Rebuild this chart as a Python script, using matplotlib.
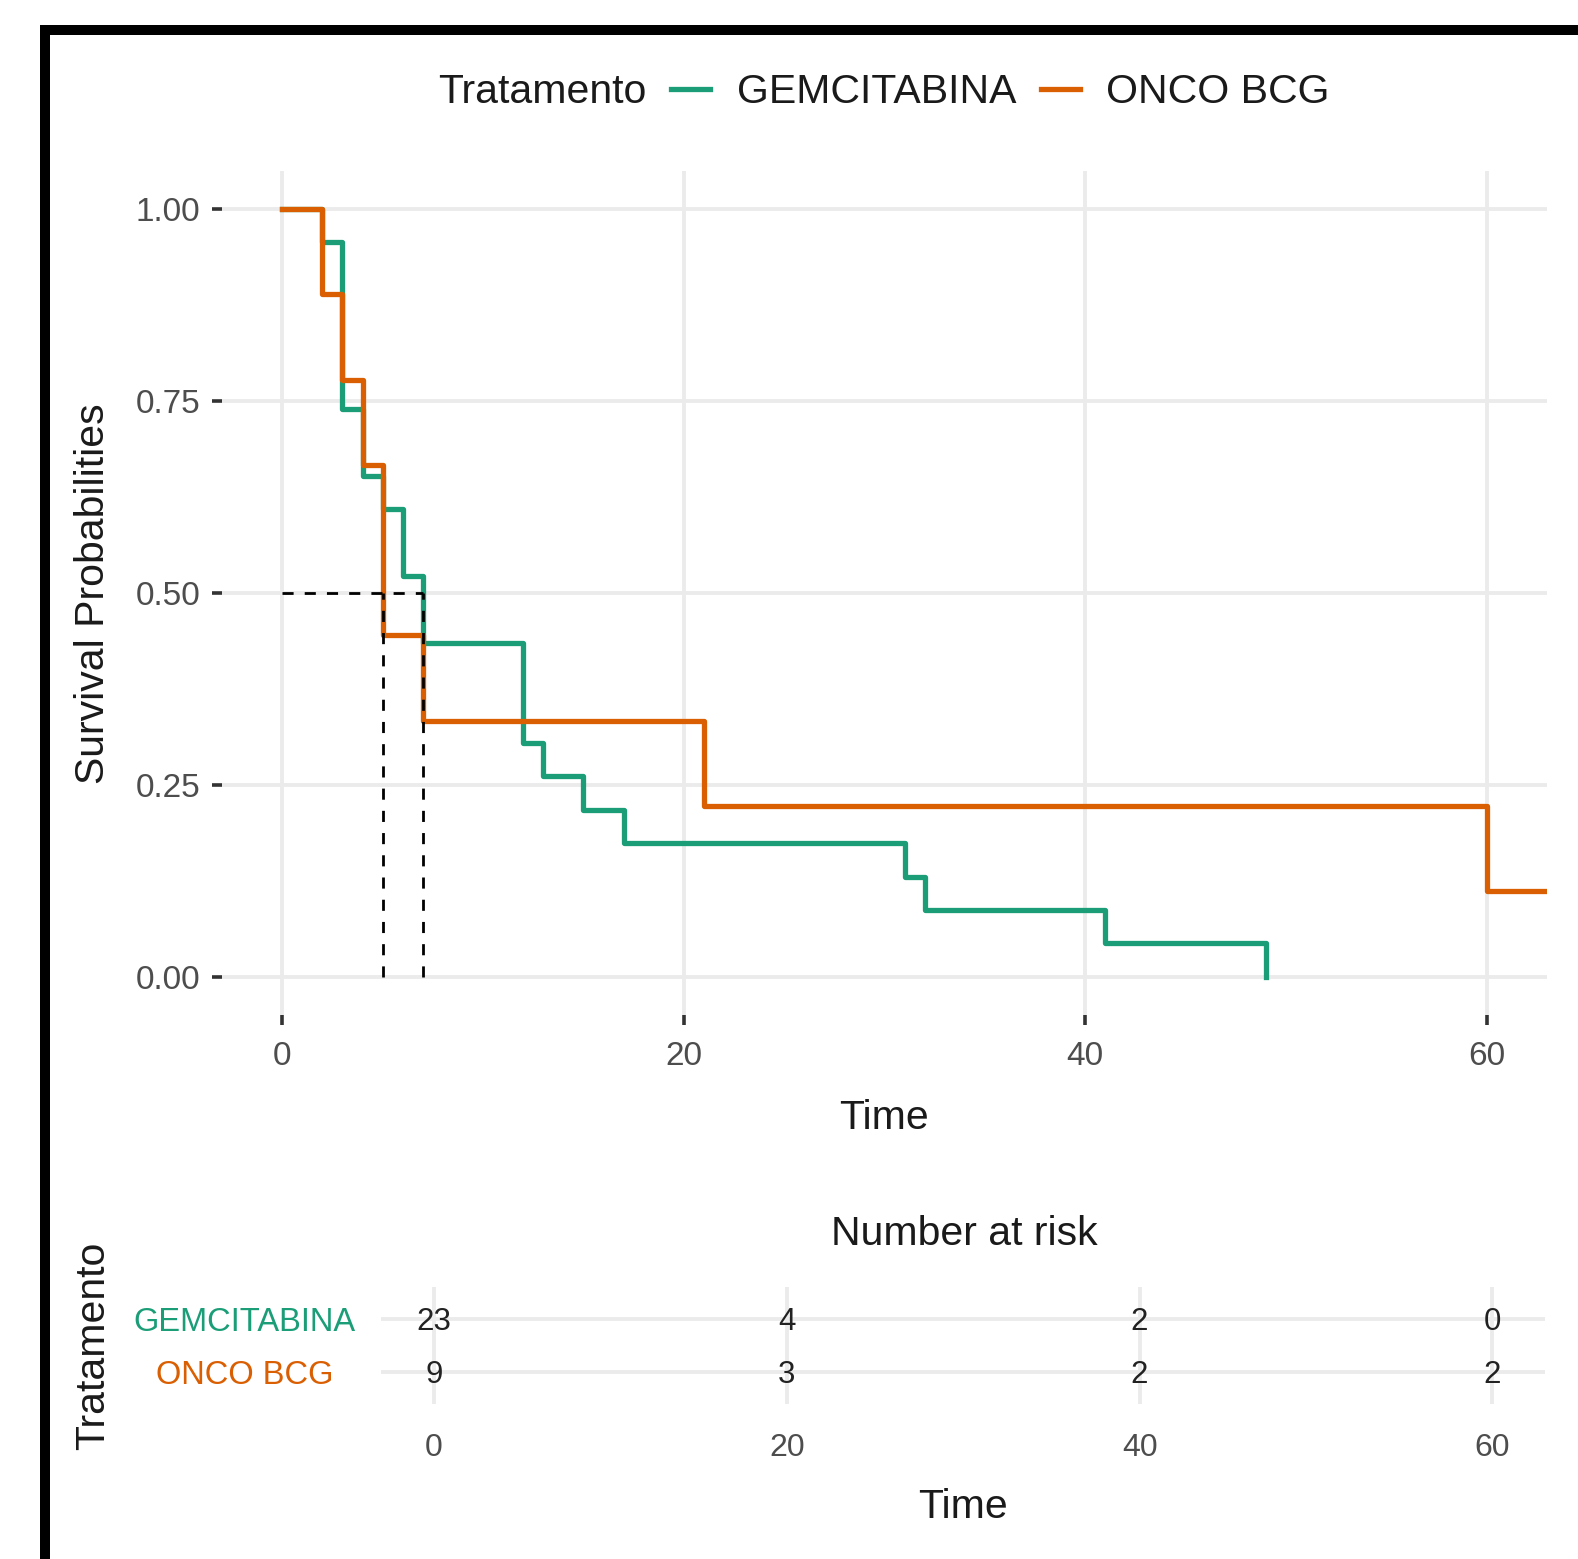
import matplotlib
matplotlib.use("Agg")
import matplotlib.pyplot as plt
from matplotlib.lines import Line2D
from matplotlib.transforms import offset_copy

plt.rcParams['font.family'] = ['Liberation Sans', 'DejaVu Sans']

# Kaplan-Meier step data
groups = ['GEMCITABINA', 'ONCO BCG']
colors = ['#1B9E77', '#D95F02']

gem_time = [0, 2, 3, 4, 5, 6, 7, 12, 13, 15, 17, 31, 32, 41, 49]
gem_surv = [1.0, 0.9565, 0.7391, 0.6522, 0.6087, 0.5217, 0.4348, 0.3043,
            0.2609, 0.2174, 0.1739, 0.1304, 0.0870, 0.0435, 0.0]

onco_time = [0, 2, 3, 4, 5, 7, 21, 60, 63]
onco_surv = [1.0, 0.8889, 0.7778, 0.6667, 0.4444, 0.3333, 0.2222, 0.1111, 0.1111]

medians = [5, 7]

risk_times = [0, 20, 40, 60]
gem_risk = [23, 4, 2, 0]
onco_risk = [9, 3, 2, 2]

W, H = 1578, 1559
def fx(px):
    return px / W
def fy(py):
    return 1 - py / H

fig = plt.figure(figsize=(W / 100, H / 100), dpi=100)

grid_kw = dict(color='#EBEBEB', linewidth=2.8)
tick_col = '#4D4D4D'
title_col = '#1A1A1A'
title_size = 29.5

# main survival panel
ax = fig.add_axes([fx(222), fy(1015), fx(1547) - fx(222), fy(170.6) - fy(1015)])
ax.step(gem_time, gem_surv, where='post', color=colors[0], lw=3.8, zorder=3)
ax.step(onco_time, onco_surv, where='post', color=colors[1], lw=3.8, zorder=4)

# median survival dashed lines
dash = dict(color='black', lw=2.0, linestyle=(0, (4, 4)), zorder=5)
ax.plot([0, max(medians)], [0.5, 0.5], **dash)
for m in medians:
    ax.plot([m, m], [0, 0.5], **dash)

ax.set_xlim(-3, 63)
ax.set_ylim(-0.05, 1.05)
ax.set_xticks([0, 20, 40, 60])
ax.set_yticks([0, 0.25, 0.5, 0.75, 1.0])
ax.set_yticklabels(['0.00', '0.25', '0.50', '0.75', '1.00'])
ax.grid(True, **grid_kw)
ax.set_axisbelow(True)
for s in ax.spines.values():
    s.set_visible(False)
ax.tick_params(axis='both', labelsize=24, labelcolor=tick_col, color='#333333',
               length=7.5, width=2.6)
ax.tick_params(axis='x', pad=11)
ax.tick_params(axis='y', pad=8)

fig.text(fx(884), fy(1118), 'Time', ha='center', va='center', size=title_size,
         color=title_col)
fig.text(fx(93), fy(594), 'Survival Probabilities', ha='center', va='center',
         rotation=90, size=title_size, color=title_col)

# legend on top
fig.text(fx(438), fy(92), 'Tratamento', ha='left', va='center', size=title_size,
         color=title_col)
handles = [Line2D([], [], color=c, lw=3.8) for c in colors]
fig.legend(handles, groups, loc='center left', bbox_to_anchor=(fx(671), fy(92)),
           ncol=2, frameon=False, fontsize=title_size, handlelength=0.95,
           handletextpad=0.65, columnspacing=0.6, borderpad=0, borderaxespad=0,
           labelcolor=title_col)

# risk table
ax2 = fig.add_axes([fx(381), fy(1404), fx(1545.4) - fx(381), fy(1287) - fy(1404)])
ax2.set_xlim(-3, 63)
ax2.set_ylim(2.6, 0.4)
ax2.set_xticks(risk_times)
ax2.set_yticks([1, 2])
ax2.set_yticklabels(groups, ha='center')
ax2.grid(True, **grid_kw)
ax2.set_axisbelow(True)
for s in ax2.spines.values():
    s.set_visible(False)
ax2.tick_params(axis='x', length=0, labelsize=23, labelcolor=tick_col, pad=21)
ax2.tick_params(axis='y', length=0, labelsize=23.5, pad=98)
for lab, c in zip(ax2.get_yticklabels(), colors):
    lab.set_color(c)
num_tr = offset_copy(ax2.transData, fig=fig, y=-3, units='dots')
for row, counts in enumerate([gem_risk, onco_risk], start=1):
    for t, n in zip(risk_times, counts):
        ax2.text(t, row, str(n), ha='center', va='center', size=22.5,
                 color='#222222', transform=num_tr)

fig.text(fx(964), fy(1234), 'Number at risk', ha='center', va='center',
         size=title_size, color=title_col)
fig.text(fx(963), fy(1507), 'Time', ha='center', va='center', size=title_size,
         color=title_col)
fig.text(fx(93), fy(1346), 'Tratamento', ha='center', va='center', rotation=90,
         size=title_size, color=title_col)

# black frame of the screenshot (left and top edges only)
fig.add_artist(Line2D([fx(45), fx(45)], [0, fy(25)], color='black', lw=7.2,
                      solid_capstyle='butt', transform=fig.transFigure))
fig.add_artist(Line2D([fx(40), 1], [fy(30), fy(30)], color='black', lw=7.2,
                      solid_capstyle='butt', transform=fig.transFigure))

fig.savefig('out.png', dpi=100)
